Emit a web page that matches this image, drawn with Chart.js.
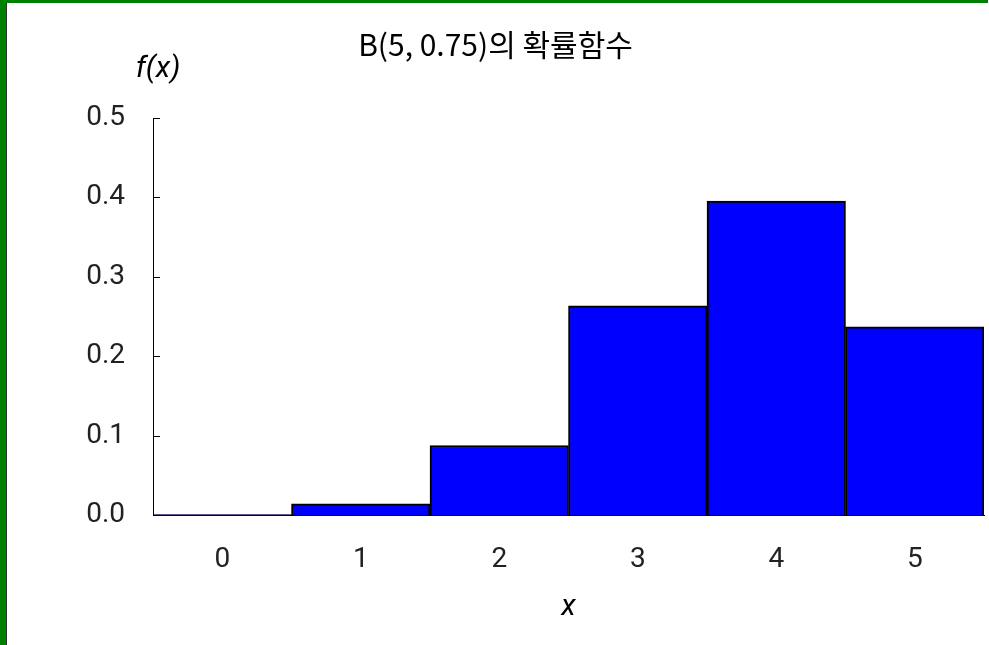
<!DOCTYPE html>
<html>
<head>
<meta charset="utf-8">
<script src="https://cdn.jsdelivr.net/npm/chart.js@4/dist/chart.umd.min.js"></script>
<style>
  html, body { margin: 0; padding: 0; background: #fff; }
  #frame {
    width: 982px; height: 642px;
    border-left: 6px solid #008000; border-top: 3px solid #008000;
    position: relative;
  }
  #inner { width: 981px; height: 642px; border-left: 1px solid #333; }
  canvas { display: block; }
</style>
</head>
<body>
<div id="frame"><div id="inner"><canvas id="pmf" width="981" height="642"></canvas></div></div>
<script>
// B(5, 0.75) probabilities
const xs = ['0', '1', '2', '3', '4', '5'];
const probs = [0.001, 0.0146, 0.0879, 0.2637, 0.3955, 0.2373];
const yTicks = [0, 0.1, 0.2, 0.3, 0.4, 0.5];

const numFont = "'Roboto', 'Liberation Sans', sans-serif";

// axis labels f(x), x and inward tick marks on y axis
const extras = {
  id: 'extras',
  afterDraw(chart) {
    const ctx = chart.ctx;
    const y = chart.scales.y;
    const area = chart.chartArea;
    ctx.save();
    ctx.strokeStyle = '#000';
    ctx.lineWidth = 1;
    yTicks.forEach(v => {
      const py = Math.round(y.getPixelForValue(v)) + 0.5;
      ctx.beginPath();
      ctx.moveTo(area.left, py);
      ctx.lineTo(area.left + 7, py);
      ctx.stroke();
    });
    ctx.fillStyle = '#000';
    ctx.font = "italic 30px " + numFont;
    ctx.textAlign = 'center';
    ctx.textBaseline = 'middle';
    ctx.fillText('f(x)', area.left + 5, area.top - 49);
    ctx.fillText('x', (area.left + area.right) / 2, area.bottom + 92);
    ctx.restore();
  }
};

new Chart(document.getElementById('pmf'), {
  type: 'bar',
  data: {
    labels: xs,
    datasets: [{
      data: probs,
      backgroundColor: '#0000ff',
      borderColor: '#000',
      borderWidth: 2,
      barPercentage: 1,
      categoryPercentage: 1
    }]
  },
  options: {
    responsive: false,
    animation: false,
    layout: { padding: { left: 0, right: 4, top: 0, bottom: 40 } },
    plugins: {
      legend: { display: false },
      tooltip: { enabled: false },
      title: {
        display: true,
        text: 'B(5, 0.75)의 확률함수',
        color: '#000',
        font: { family: "'Noto Sans CJK KR', sans-serif", size: 30, weight: 'normal' },
        padding: { top: 24, bottom: 55 }
      }
    },
    scales: {
      x: {
        grid: { display: false, drawTicks: false },
        border: { display: true, color: '#000', width: 1 },
        ticks: { color: '#222', font: { family: numFont, size: 28 }, padding: 28 }
      },
      y: {
        min: 0, max: 0.5,
        afterBuildTicks(scale) { scale.ticks = yTicks.map(v => ({ value: v })); },
        afterFit(scale) { scale.width = 153 - 7; },
        grid: { display: false, drawTicks: false },
        border: { display: true, color: '#000', width: 1 },
        ticks: {
          color: '#222', font: { family: numFont, size: 28 }, padding: 28,
          callback: v => v.toFixed(1)
        }
      }
    }
  },
  plugins: [extras]
});
</script>
</body>
</html>
